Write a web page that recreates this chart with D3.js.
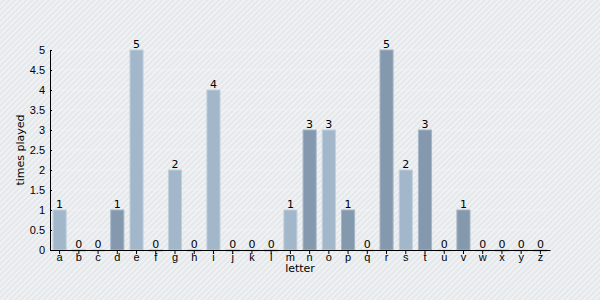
<!DOCTYPE html>
<html>
<head>
<meta charset="utf-8">
<script src="https://cdn.jsdelivr.net/npm/d3@7"></script>
<style>
  body { margin: 0; }
  svg { display: block; font-family: "DejaVu Sans", Verdana, sans-serif; }
  .axis text { font-size: 11px; fill: #000; }
  .axis path, .axis line { stroke: #000; }
</style>
</head>
<body>
<svg id="chart" width="600" height="300"></svg>
<script>
// data
var letters = "abcdefghijklmnopqrstuvwxyz".split("");
var timesPlayed = [1, 0, 0, 1, 5, 0, 2, 0, 4, 0, 0, 0, 1, 3, 3, 1, 0, 5, 2, 3, 0, 1, 0, 0, 0, 0];
var yTicks = [0, 0.5, 1, 1.5, 2, 2.5, 3, 3.5, 4, 4.5, 5];

var margin = {top: 50, right: 50, bottom: 50, left: 50},
  width = 600 - margin.left - margin.right,
  height = 300 - margin.top - margin.bottom;

var svg = d3.select("#chart");

// striped background
var defs = svg.append("defs");
var pat = defs.append("pattern")
  .attr("id", "stripes")
  .attr("width", 4)
  .attr("height", 4)
  .attr("patternUnits", "userSpaceOnUse")
  .attr("patternTransform", "rotate(45)");
pat.append("rect").attr("width", 4).attr("height", 4).attr("fill", "#e5e8eb");
pat.append("rect").attr("width", 1.5).attr("height", 4).attr("fill", "#f3f4f6");

svg.append("rect")
  .attr("width", 600)
  .attr("height", 300)
  .attr("fill", "url(#stripes)");

var g = svg.append("g")
  .attr("transform", "translate(" + margin.left + "," + margin.top + ")");

var x = d3.scaleBand()
  .domain(letters)
  .range([0, width])
  .paddingInner(0.32)
  .paddingOuter(0.16);

var y = d3.scaleLinear()
  .domain([0, 5])
  .range([height, 0]);

// grid lines
g.append("g")
  .selectAll("line")
  .data(yTicks)
  .enter().append("line")
  .attr("x1", 0)
  .attr("x2", width)
  .attr("y1", function (d) { return y(d); })
  .attr("y2", function (d) { return y(d); })
  .attr("stroke", "#ffffff")
  .attr("stroke-opacity", 0.3);

// bars
g.selectAll(".bar")
  .data(timesPlayed)
  .enter().append("rect")
  .attr("class", "bar")
  .attr("x", function (d, i) { return x(letters[i]); })
  .attr("width", x.bandwidth())
  .attr("y", function (d) { return y(d); })
  .attr("height", function (d) { return Math.max(height - y(d), 1); })
  .attr("fill", function (d, i) { return i % 2 ? "#8498ae" : "#a3b7ca"; })
  .attr("stroke", function (d, i) { return i % 2 ? "#a3b5c6" : "#bfcfdc"; })
  .attr("stroke-width", 1);

// value labels
g.selectAll(".val")
  .data(timesPlayed)
  .enter().append("text")
  .attr("class", "val")
  .attr("x", function (d, i) { return x(letters[i]) + x.bandwidth() / 2; })
  .attr("y", function (d) { return y(d) - 2; })
  .attr("text-anchor", "middle")
  .attr("font-size", "11px")
  .text(function (d) { return d; });

// axes
g.append("g")
  .attr("class", "axis")
  .attr("transform", "translate(0," + height + ")")
  .call(d3.axisBottom(x).tickSize(4).tickSizeOuter(0).tickPadding(-1));

g.append("g")
  .attr("class", "axis")
  .call(d3.axisLeft(y).tickValues(yTicks).tickFormat(function (d) { return String(d); })
    .tickSize(3).tickSizeOuter(0).tickPadding(2))
  .selectAll(".tick line").attr("x2", 2);

// axis titles
g.append("text")
  .attr("x", width / 2)
  .attr("y", height + 22)
  .attr("text-anchor", "middle")
  .attr("font-size", "11px")
  .text("letter");

g.append("text")
  .attr("transform", "translate(" + (-26) + "," + (height / 2) + ") rotate(-90)")
  .attr("text-anchor", "middle")
  .attr("font-size", "11px")
  .text("times played");
</script>
</body>
</html>
